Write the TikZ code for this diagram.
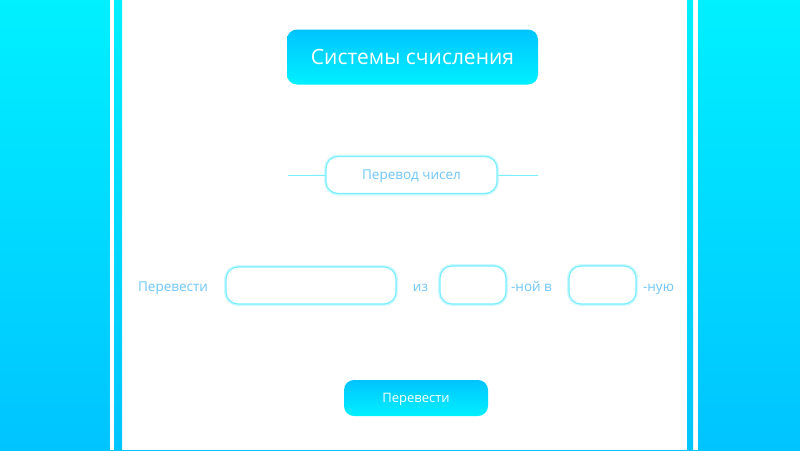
\documentclass[tikz,border=0pt]{standalone}
\usepackage{fontspec}
\setmainfont{Open Sans}
\usetikzlibrary{positioning}
\definecolor{sidetop}{RGB}{0,240,255}
\definecolor{sidebot}{RGB}{0,196,255}
\definecolor{glow}{RGB}{120,238,255}
\definecolor{labelblue}{RGB}{110,198,250}
\tikzstyle{button}=[rounded corners=10pt, top color=sidebot, bottom color=sidetop, text=white, inner sep=0pt]
\tikzstyle{field}=[rounded corners=12pt, draw=glow, line width=1.2pt, fill=white, preaction={draw=glow!35, line width=4pt}]
\tikzstyle{caption}=[text=labelblue, inner sep=0pt, text height=9.6pt, text depth=0pt, font=\fontsize{13.5}{15}\selectfont]
\tikzstyle{rule}=[draw=glow, line width=0.8pt]

\begin{document}
\begin{tikzpicture}[x=1pt, y=-1pt]
    \useasboundingbox (0,0) rectangle (800,450);
    % background and frame
    \shade[top color=sidetop, bottom color=sidebot] (0,0) rectangle (800,450);
    \fill[white] (110,0) rectangle (698,450);
    \shade[top color=sidetop, bottom color=sidebot] (114,0) rectangle (122,450);
    \shade[top color=sidetop, bottom color=sidebot] (687,0) rectangle (693,450);

    \node[button, minimum width=251pt, minimum height=55pt, font=\fontsize{21}{25}\selectfont] (title) at (412.5,57) {Системы счисления};

    \node[field, caption, minimum width=171pt, minimum height=37pt] (section) at (411.5,175) {Перевод чисел};
    \coordinate (ruleL) at (288,175.5);
    \coordinate (ruleR) at (538,175.5);
    \draw[rule] (ruleL) -- (section);
    \draw[rule] (section) -- (ruleR);

    \node[caption] (label)  at (173,286.5)   {Перевести};
    \node[field, minimum width=170pt, minimum height=37pt] (number) at (311,285.5) {};
    \node[caption] (from)   at (420.5,286.5) {из};
    \node[field, minimum width=66pt, minimum height=38pt]  (base1)  at (473,285)   {};
    \node[caption] (into)   at (531.5,286.5) {-ной в};
    \node[field, minimum width=67pt, minimum height=38pt]  (base2)  at (602.5,285) {};
    \node[caption] (suffix) at (658.5,286.5) {-ную};

    \node[button, minimum width=144pt, minimum height=36pt, text height=9.3pt, text depth=0pt, font=\fontsize{13}{15}\selectfont] (convert) at (416,398) {Перевести};
\end{tikzpicture}
\end{document}
